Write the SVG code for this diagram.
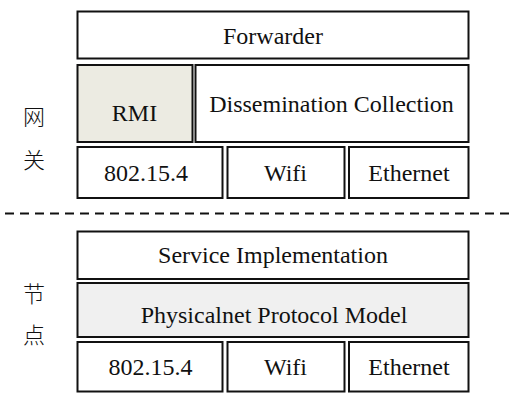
<svg xmlns="http://www.w3.org/2000/svg" width="509" height="393" viewBox="0 0 509 393" font-family="'Liberation Serif', 'DejaVu Serif', serif">
<style>
.box{fill:#fff;stroke:#111;stroke-width:2}
.rmi{fill:#ecebe2}
.phy{fill:#f0f0f0}
.t{font-family:'Liberation Serif','DejaVu Serif',serif;font-size:24px;fill:#111;text-anchor:middle}
.cjk{font-family:'Noto Sans CJK SC','Noto Sans CJK JP',sans-serif;font-size:22px;font-weight:300;fill:#111;text-anchor:middle}
</style>
<rect width="509" height="393" fill="#fff"/>
<g id="label-gateway">
<text class="cjk" x="34" y="125">网</text>
<text class="cjk" x="34" y="168">关</text>
</g>
<g id="label-node">
<text class="cjk" x="34" y="302">节</text>
<text class="cjk" x="34" y="343">点</text>
</g>
<g id="forwarder"><rect class="box" x="77.5" y="11.5" width="391" height="47"/><text class="t" x="273" y="44">Forwarder</text></g>
<g id="rmi"><rect class="box rmi" x="77.5" y="65" width="115" height="77"/><text class="t" x="134.5" y="121">RMI</text></g>
<g id="dissemination"><rect class="box" x="195.5" y="65" width="273" height="77"/><text class="t" x="331.5" y="112">Dissemination Collection</text></g>
<g id="gw-802"><rect class="box" x="77.5" y="147" width="145" height="51"/><text class="t" x="146" y="181">802.15.4</text></g>
<g id="gw-wifi"><rect class="box" x="227.5" y="147" width="117" height="51"/><text class="t" x="285.5" y="181">Wifi</text></g>
<g id="gw-eth"><rect class="box" x="349" y="147" width="119.5" height="51"/><text class="t" x="409" y="181">Ethernet</text></g>
<g id="connectors">
<line x1="5" y1="213.5" x2="509" y2="213.5" stroke="#111" stroke-width="2" stroke-dasharray="9,6"/>
</g>
<g id="service"><rect class="box" x="77.5" y="231.5" width="391" height="47.5"/><text class="t" x="273" y="263">Service Implementation</text></g>
<g id="physicalnet"><rect class="box phy" x="77.5" y="283" width="391" height="54"/><text class="t" x="274" y="322.5">Physicalnet Protocol Model</text></g>
<g id="nd-802"><rect class="box" x="77.5" y="342" width="145" height="49.5"/><text class="t" x="150.5" y="375">802.15.4</text></g>
<g id="nd-wifi"><rect class="box" x="227.5" y="342" width="117" height="49.5"/><text class="t" x="285.5" y="375">Wifi</text></g>
<g id="nd-eth"><rect class="box" x="349" y="342" width="119.5" height="49.5"/><text class="t" x="409" y="375">Ethernet</text></g>
</svg>
